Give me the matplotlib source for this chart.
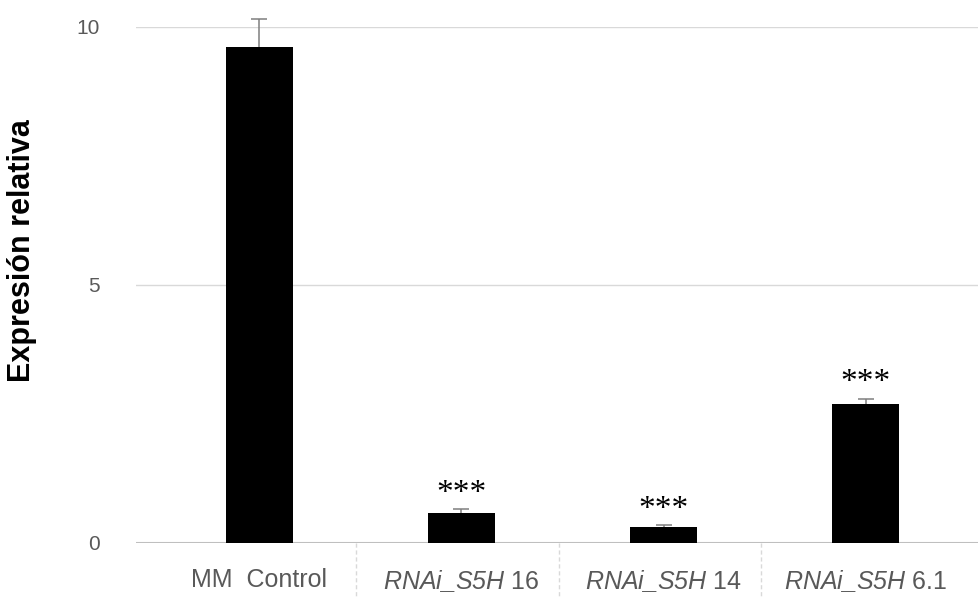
import matplotlib.pyplot as plt
import numpy as np

plt.rcParams['font.family'] = ['Liberation Sans', 'DejaVu Sans']
plt.rcParams['mathtext.fontset'] = 'custom'
plt.rcParams['mathtext.rm'] = 'Liberation Sans'
plt.rcParams['mathtext.sf'] = 'Liberation Sans:italic'

labels = ['MM  Control', r'$\mathsf{RNAi\_S5H}$ 16', r'$\mathsf{RNAi\_S5H}$ 14', r'$\mathsf{RNAi\_S5H}$ 6.1']
values = [9.62, 0.58, 0.31, 2.69]
errors = [0.53, 0.07, 0.03, 0.11]
stars = ['', '***', '***', '***']

W, H = 979, 599
fig = plt.figure(figsize=(W / 100, H / 100), dpi=100)
ax = fig.add_axes([136 / W, (H - 543) / H, (W - 136) / W, (543 - 27) / H])

x = np.arange(len(values))
ax.bar(x, values, width=0.33, color='black', zorder=3)

# upper-only error bars
err = ax.errorbar(x, values, yerr=[np.zeros(len(errors)), errors], fmt='none',
                  ecolor='#7f7f7f', elinewidth=1.1, capsize=6, capthick=1.1,
                  zorder=4, clip_on=False)
err[1][0].set_visible(False)

for xi, v, e, s in zip(x, values, errors, stars):
    if s:
        ax.text(xi, v + e + 0.3, s, ha='center', va='center', fontsize=24,
                family='Liberation Serif', color='black')

ax.set_xlim(-0.61, 3.56)
ax.set_ylim(0, 10)
ax.set_yticks([0, 5, 10])
ax.set_yticklabels(['0', '5', '10'], color='#595959', fontsize=15)
ax.tick_params(axis='y', length=0, pad=26)
ax.yaxis.grid(True, color='#d9d9d9', linewidth=1, zorder=0)
ax.axhline(0, color='#bfbfbf', linewidth=1.5, zorder=2)

ax.set_xticks(x)
ax.set_xticklabels(labels, color='#595959', fontsize=18)
ax.tick_params(axis='x', length=0, pad=18)

# dashed category separators below the baseline
for sx in [0.48, 1.48, 2.48]:
    ax.plot([sx, sx], [0, -1.1], color='#d9d9d9', linestyle=(0, (3, 2)),
            linewidth=1, clip_on=False)

for sp in ax.spines.values():
    sp.set_visible(False)

fig.text(22 / W, 1 - 251 / H, 'Expresión relativa', rotation=90, ha='center',
         va='center', fontsize=22, fontweight='bold', color='black')

fig.savefig('out.png', dpi=100)
